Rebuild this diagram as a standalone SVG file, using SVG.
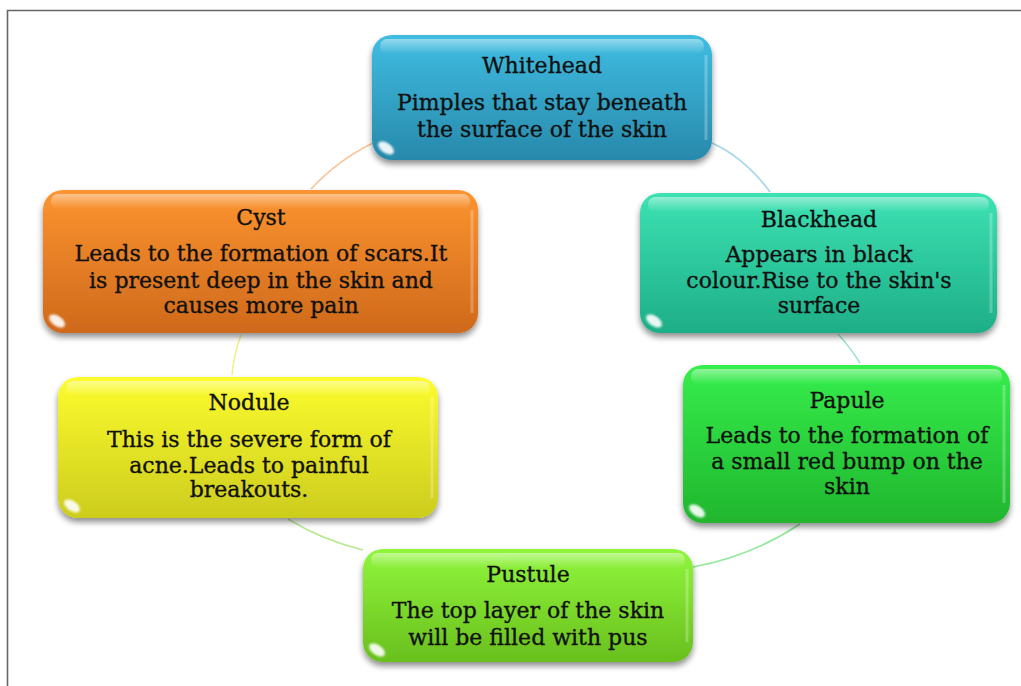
<svg xmlns="http://www.w3.org/2000/svg" width="1021" height="686" viewBox="0 0 1021 686">
<style>
.t{font-family:"DejaVu Serif","Liberation Serif",serif;font-size:22px;fill:#111;stroke:#111;stroke-width:0.35;text-anchor:middle}
.c{fill:none;stroke-width:1.6}
.hl{fill:url(#hl)}
.edge{fill:none;stroke:#ffffff;stroke-opacity:0.25;stroke-width:3}
.gloss{fill:#ffffff;opacity:0.9}
</style>
<defs>
<filter id="sh" x="-10%" y="-10%" width="120%" height="130%">
<feGaussianBlur in="SourceAlpha" stdDeviation="3"/>
<feOffset dx="0" dy="4" result="b"/>
<feComponentTransfer><feFuncA type="linear" slope="0.45"/></feComponentTransfer>
<feMerge><feMergeNode/><feMergeNode in="SourceGraphic"/></feMerge>
</filter>
<filter id="soft"><feGaussianBlur stdDeviation="1"/></filter>
<linearGradient id="hl" x1="0" y1="0" x2="0" y2="1">
<stop offset="0" stop-color="#fff" stop-opacity="0.45"/>
<stop offset="1" stop-color="#fff" stop-opacity="0"/>
</linearGradient>
<linearGradient id="gW" x1="0" y1="0" x2="0" y2="1"><stop offset="0" stop-color="#3fbde2"/><stop offset="1" stop-color="#2889ab"/></linearGradient>
<linearGradient id="gB" x1="0" y1="0" x2="0" y2="1"><stop offset="0" stop-color="#3ce2b3"/><stop offset="1" stop-color="#1eae87"/></linearGradient>
<linearGradient id="gP" x1="0" y1="0" x2="0" y2="1"><stop offset="0" stop-color="#36ee4c"/><stop offset="1" stop-color="#20b62e"/></linearGradient>
<linearGradient id="gU" x1="0" y1="0" x2="0" y2="1"><stop offset="0" stop-color="#90f63c"/><stop offset="1" stop-color="#69bf1d"/></linearGradient>
<linearGradient id="gN" x1="0" y1="0" x2="0" y2="1"><stop offset="0" stop-color="#fcfc2e"/><stop offset="1" stop-color="#cccc1e"/></linearGradient>
<linearGradient id="gC" x1="0" y1="0" x2="0" y2="1"><stop offset="0" stop-color="#fc9430"/><stop offset="1" stop-color="#cf691b"/></linearGradient>
</defs>
<rect width="1021" height="686" fill="#ffffff"/>
<path d="M7.5,686 V10.5 H1021" fill="none" stroke="#666" stroke-width="1.6"/>

<g id="connectors">
<path class="c" stroke="#a3d6e6" d="M712,143 Q745,158 770,192"/>
<path class="c" stroke="#9fe3d0" d="M838,334 Q850,347 860,363"/>
<path class="c" stroke="#93e89c" d="M800,524 Q752,556 693,567"/>
<path class="c" stroke="#b8ea92" d="M363,550 Q322,540 288,519"/>
<path class="c" stroke="#eef08c" d="M232,375 Q234,354 241,335"/>
<path class="c" stroke="#f8c59c" d="M311,189 Q338,160 373,143"/>
</g>

<g id="whitehead">
<rect x="372" y="35" width="340" height="125" rx="20" fill="url(#gW)" filter="url(#sh)"/>
<rect class="hl" x="380" y="39" width="324" height="15" rx="7"/>
<path class="edge" d="M706,55 V140"/>
<ellipse class="gloss" cx="386" cy="148" rx="9" ry="5" transform="rotate(35 386 148)" filter="url(#soft)"/>
<text class="t" x="542" y="73">Whitehead</text>
<text class="t" x="542" y="110">Pimples that stay beneath</text>
<text class="t" x="542" y="137">the surface of the skin</text>
</g>

<g id="blackhead">
<rect x="640" y="193" width="357" height="140" rx="20" fill="url(#gB)" filter="url(#sh)"/>
<rect class="hl" x="648" y="197" width="341" height="15" rx="7"/>
<path class="edge" d="M991,213 V313"/>
<ellipse class="gloss" cx="654" cy="321" rx="9" ry="5" transform="rotate(35 654 321)" filter="url(#soft)"/>
<text class="t" x="819" y="227">Blackhead</text>
<text class="t" x="819" y="262">Appears in  black</text>
<text class="t" x="819" y="288">colour.Rise to the skin's</text>
<text class="t" x="819" y="313">surface</text>
</g>

<g id="papule">
<rect x="683" y="365" width="327" height="158" rx="20" fill="url(#gP)" filter="url(#sh)"/>
<rect class="hl" x="691" y="369" width="311" height="15" rx="7"/>
<path class="edge" d="M1004,385 V503"/>
<ellipse class="gloss" cx="697" cy="511" rx="9" ry="5" transform="rotate(35 697 511)" filter="url(#soft)"/>
<text class="t" x="847" y="408">Papule</text>
<text class="t" x="847" y="443">Leads to the formation of</text>
<text class="t" x="847" y="469">a small  red bump on the</text>
<text class="t" x="847" y="494">skin</text>
</g>

<g id="pustule">
<rect x="363" y="549" width="330" height="113" rx="20" fill="url(#gU)" filter="url(#sh)"/>
<rect class="hl" x="371" y="553" width="314" height="15" rx="7"/>
<path class="edge" d="M687,569 V642"/>
<ellipse class="gloss" cx="377" cy="650" rx="9" ry="5" transform="rotate(35 377 650)" filter="url(#soft)"/>
<text class="t" x="528" y="582">Pustule</text>
<text class="t" x="528" y="618">The top layer of the skin</text>
<text class="t" x="528" y="645">will be filled with pus</text>
</g>

<g id="nodule">
<rect x="58" y="377" width="380" height="141" rx="20" fill="url(#gN)" filter="url(#sh)"/>
<rect class="hl" x="66" y="381" width="364" height="15" rx="7"/>
<path class="edge" d="M432,397 V498"/>
<ellipse class="gloss" cx="72" cy="506" rx="9" ry="5" transform="rotate(35 72 506)" filter="url(#soft)"/>
<text class="t" x="249" y="410">Nodule</text>
<text class="t" x="249" y="447">This is the severe form of</text>
<text class="t" x="249" y="473">acne.Leads to painful</text>
<text class="t" x="249" y="497">breakouts.</text>
</g>

<g id="cyst">
<rect x="43" y="190" width="435" height="143" rx="20" fill="url(#gC)" filter="url(#sh)"/>
<rect class="hl" x="51" y="194" width="419" height="15" rx="7"/>
<path class="edge" d="M472,210 V313"/>
<ellipse class="gloss" cx="57" cy="321" rx="9" ry="5" transform="rotate(35 57 321)" filter="url(#soft)"/>
<text class="t" x="261" y="225">Cyst</text>
<text class="t" x="261" y="261">Leads to the formation of scars.It</text>
<text class="t" x="261" y="288">is present deep in the skin and</text>
<text class="t" x="261" y="313">causes more pain</text>
</g>
</svg>
